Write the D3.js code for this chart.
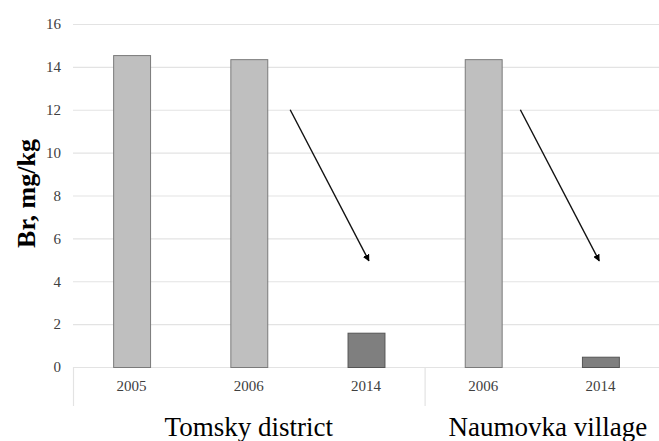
<!DOCTYPE html>
<html>
<head>
<meta charset="utf-8">
<script src="https://cdn.jsdelivr.net/npm/d3@7"></script>
<style>
  html, body { margin: 0; padding: 0; background: #fff; }
  svg { display: block; }
</style>
</head>
<body>
<svg id="chart" width="659" height="441"></svg>
<script>
// Bromine content by site and year
const groups = ["Tomsky district", "Naumovka village"];
const years = ["2005", "2006", "2014", "2006", "2014"];
const groupOf = [0, 0, 0, 1, 1];
const values = [14.55, 14.36, 1.6, 14.36, 0.48];
const yTicks = [0, 2, 4, 6, 8, 10, 12, 14, 16];
// Decrease arrows: start/end positions in bar-index units and value units
const arrows = [
  { x0: 1.353, y0: 12.0, x1: 2.025, y1: 4.95 },
  { x0: 3.317, y0: 12.0, x1: 3.99, y1: 4.95 }
];

const svg = d3.select("#chart");
const W = 659, H = 441;
const margin = { left: 73, right: 0, top: 24, bottom: 74 };
const plotW = W - margin.left - margin.right;
const plotH = H - margin.top - margin.bottom;

const x = d3.scaleBand()
  .domain(d3.range(values.length))
  .range([margin.left, margin.left + plotW])
  .paddingInner(0.685)
  .paddingOuter(0.3425);

const y = d3.scaleLinear().domain([0, 16]).range([margin.top + plotH, margin.top]);

// position along the band axis in bar-index units (centre of bar i = i)
const step = x.step();
const xc = i => x(0) + x.bandwidth() / 2 + i * step;

const serif = "'Liberation Serif', 'Times New Roman', Times, serif";

// gridlines
svg.append("g")
  .selectAll("line")
  .data(yTicks)
  .join("line")
  .attr("x1", margin.left)
  .attr("x2", W)
  .attr("y1", d => y(d) + 0.5)
  .attr("y2", d => y(d) + 0.5)
  .attr("stroke", "#e3e3e3")
  .attr("stroke-width", 1.2);

// y axis labels
const yAxis = d3.axisLeft(y).tickValues(yTicks).tickSize(0).tickPadding(12);
const ya = svg.append("g")
  .attr("transform", `translate(${margin.left},0)`)
  .call(yAxis);
ya.select(".domain").remove();
ya.selectAll("text")
  .attr("font-family", serif)
  .attr("font-size", 15)
  .attr("fill", "#404040");

// bars
svg.append("g")
  .selectAll("rect")
  .data(values)
  .join("rect")
  .attr("x", (d, i) => x(i) + 0.5)
  .attr("y", d => y(d) + 0.5)
  .attr("width", x.bandwidth())
  .attr("height", d => y(0) - y(d))
  .attr("fill", (d, i) => years[i] === "2014" ? "#7f7f7f" : "#bfbfbf")
  .attr("stroke", (d, i) => years[i] === "2014" ? "#555555" : "#7a7a7a")
  .attr("stroke-width", 1);

// category axis: year labels
const xa = d3.axisBottom(x).tickSize(0).tickPadding(13).tickFormat(i => years[i]);
const xg = svg.append("g")
  .attr("transform", `translate(0,${y(0)})`)
  .call(xa);
xg.select(".domain").remove();
xg.selectAll("text")
  .attr("font-family", serif)
  .attr("font-size", 15)
  .attr("fill", "#404040");

// group separators: left edge and between the two sites
const lastOfFirst = groupOf.lastIndexOf(0);
const separators = [margin.left, xc(lastOfFirst) + step / 2];
svg.append("g")
  .selectAll("line")
  .data(separators)
  .join("line")
  .attr("x1", d => d + 0.5)
  .attr("x2", d => d + 0.5)
  .attr("y1", y(0))
  .attr("y2", y(0) + 39)
  .attr("stroke", "#e3e3e3")
  .attr("stroke-width", 1.2);

// group labels
const groupBounds = [[margin.left, separators[1]], [separators[1], W]];
svg.append("g")
  .selectAll("text")
  .data(groups)
  .join("text")
  .attr("x", (d, gi) => (groupBounds[gi][0] + groupBounds[gi][1]) / 2 + (gi === 1 ? 6 : 0))
  .attr("y", y(0) + 69)
  .attr("text-anchor", "middle")
  .attr("font-family", serif)
  .attr("font-size", 27)
  .attr("fill", "#000")
  .text(d => d);

// y axis title
svg.append("text")
  .attr("transform", `translate(35,${(y(0) + y(16)) / 2 - 2}) rotate(-90)`)
  .attr("text-anchor", "middle")
  .attr("font-family", serif)
  .attr("font-weight", "bold")
  .attr("font-size", 26)
  .attr("fill", "#000")
  .text("Br, mg/kg");

// arrows
const defs = svg.append("defs");
defs.append("marker")
  .attr("id", "arrowhead")
  .attr("viewBox", "0 0 10 10")
  .attr("refX", 9)
  .attr("refY", 5)
  .attr("markerWidth", 5)
  .attr("markerHeight", 5)
  .attr("markerUnits", "strokeWidth")
  .attr("orient", "auto")
  .append("path")
  .attr("d", "M0,0 L10,5 L0,10 z")
  .attr("fill", "#000");

svg.append("g")
  .selectAll("line")
  .data(arrows)
  .join("line")
  .attr("x1", d => xc(d.x0))
  .attr("y1", d => y(d.y0))
  .attr("x2", d => xc(d.x1))
  .attr("y2", d => y(d.y1))
  .attr("stroke", "#111")
  .attr("stroke-width", 1.4)
  .attr("marker-end", "url(#arrowhead)");
</script>
</body>
</html>
